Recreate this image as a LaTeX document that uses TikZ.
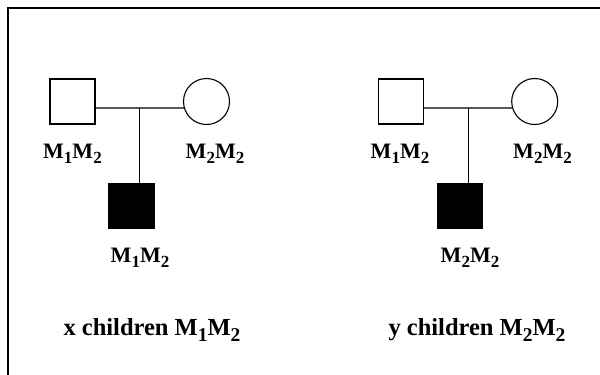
\documentclass[tikz,border=0pt]{standalone}
\usepackage{fontspec}
\setmainfont{Liberation Serif}
\def\sbsz{17}
\newcommand\sbs[1]{\raisebox{-0.25em}{\fontsize{\sbsz}{18}\selectfont #1}}
\newcommand\geno[4]{M\sbs{#2}M\sbs{#4}}
\begin{document}
\begin{tikzpicture}[x=1pt,y=-1pt,
  male/.style={draw,line width=1.1pt,minimum size=45pt,inner sep=0pt},
  affected/.style={male,fill=black},
  female/.style={draw,circle,line width=1.1pt,minimum size=46pt,inner sep=0pt},
  lbl/.style={font=\def\sbsz{17}\fontsize{22}{24}\selectfont\bfseries,anchor=base,inner sep=0pt},
  captext/.style={font=\def\sbsz{19.5}\fontsize{24.5}{28}\selectfont\bfseries,anchor=base,inner sep=0pt},
  link/.style={line width=1.1pt}]
\useasboundingbox (0,0) rectangle (600,375);
\draw[line width=1.4pt] (8,375) -- (8,8) -- (600,8);
% left panel
\node[male] (f1) at (72.5,101.5) {};
\node[female] (m1) at (206.5,101.5) {};
\coordinate (j1) at (139.5,108);
\node[affected] (c1) at (131.5,206) {};
\draw[link] (f1.east |- j1) -- (j1) -- (m1.196.4);
\draw[link] (j1) -- (j1 |- c1.north);
\node[lbl] (lf1) at (72.5,158) {\geno M1M2};
\node[lbl] (lm1) at (215,158) {\geno M2M2};
\node[lbl] (lc1) at (140,262) {\geno M1M2};
\node[captext] (t1) at (152,335) {x children \geno M1M2};
% right panel
\node[male] (f2) at (401,101.5) {};
\node[female] (m2) at (534.7,101.5) {};
\coordinate (j2) at (468.3,108);
\node[affected] (c2) at (460,206) {};
\draw[link] (f2.east |- j2) -- (j2) -- (m2.196.4);
\draw[link] (j2) -- (j2 |- c2.north);
\node[lbl] (lf2) at (400,158) {\geno M1M2};
\node[lbl] (lm2) at (542.5,158) {\geno M2M2};
\node[lbl] (lc2) at (470,262) {\geno M2M2};
\node[captext] (t2) at (477,335) {y children \geno M2M2};
\end{tikzpicture}
\end{document}
